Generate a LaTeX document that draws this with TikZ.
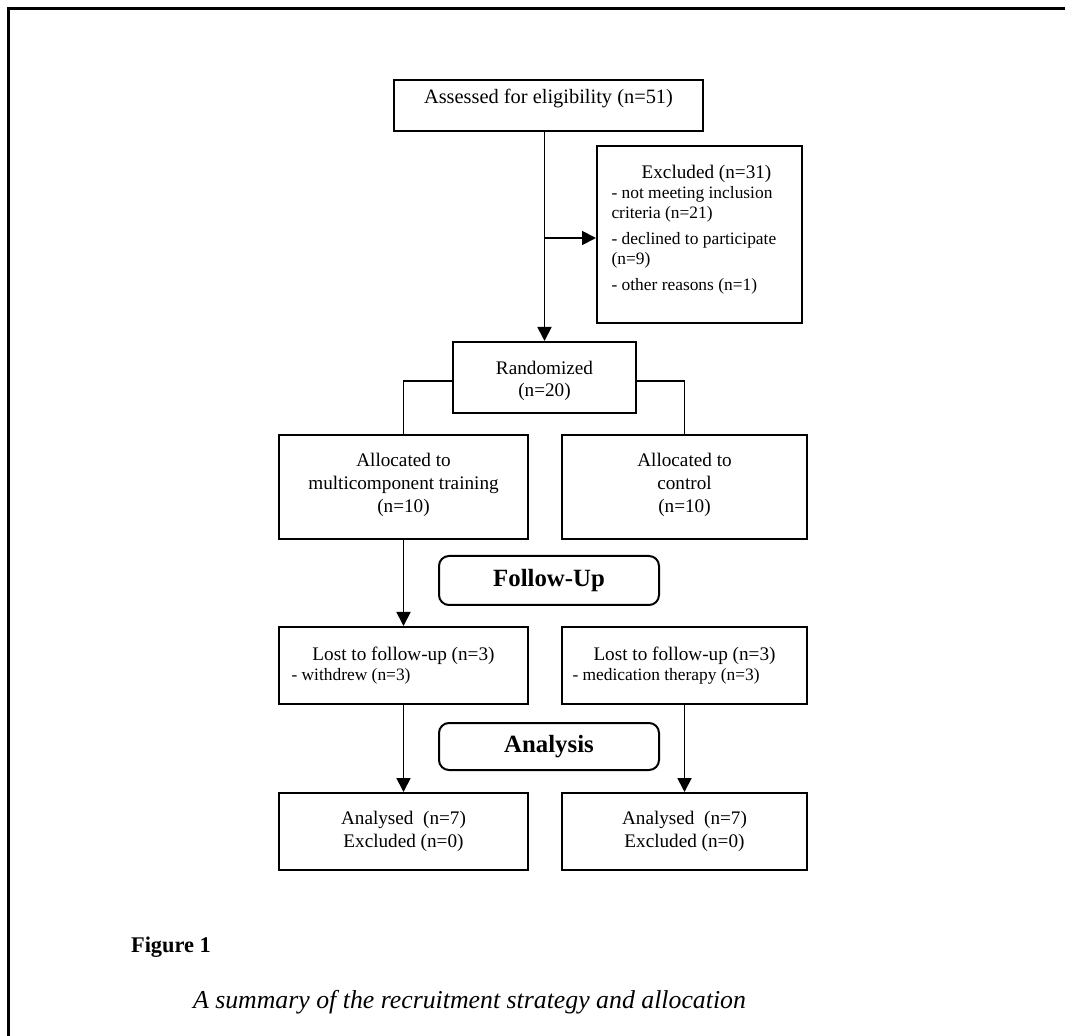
\documentclass[tikz,border=0pt]{standalone}
\usepackage{fontspec}
\setmainfont{Liberation Serif}
\usepackage{tikz}
\usetikzlibrary{arrows.meta}

\begin{document}
\begin{tikzpicture}[x=0.5pt,y=-0.5pt,
  box/.style={draw,line width=1pt,inner sep=0pt,align=center,font=\fontsize{9.6}{11.3}\selectfont},
  stage/.style={draw,line width=1pt,rounded corners=5pt,inner sep=0pt,font=\fontsize{12.4}{14}\selectfont\bfseries},
  link/.style={line width=0.9pt},
  arrow/.style={line width=0.9pt,-{Triangle[length=7pt,width=7pt]}}]
  \useasboundingbox (0,0) rectangle (1065,1036);
  \draw[line width=1.5pt] (8,1036) -- (8,9) -- (1065,9);

  \node[box,minimum width=154.5pt,minimum height=25.5pt,font=\fontsize{10.2}{12}\selectfont,text depth=9pt] (assess) at (548.5,105.5) {Assessed for eligibility (n=51)};
  \node[box,minimum width=102.5pt,minimum height=88.5pt,text width=88pt,align=flush left,font=\fontsize{8.7}{10}\selectfont] (excl) at (699.5,234.5)
    {\makebox[\linewidth]{\hspace{7pt}\fontsize{9.6}{10}\selectfont Excluded (n=31)}\\
     - not meeting inclusion\\
     criteria (n=21)\\[3pt]
     - declined to participate\\
     (n=9)\\[3pt]
     - other reasons (n=1)\rule[-7pt]{0pt}{7pt}};
  \node[box,minimum width=91.5pt,minimum height=35.5pt,font=\fontsize{9.6}{11}\selectfont] (rand) at (544.5,377.5) {\rule{0pt}{9.6pt}Randomized\\(n=20)};
  \node[box,minimum width=124.5pt,minimum height=52pt] (allocA) at (403.5,487) {Allocated to\\multicomponent training\\(n=10)\rule[-4.2pt]{0pt}{4.2pt}};
  \node[box,minimum width=122.5pt,minimum height=52pt] (allocB) at (684.5,487) {Allocated to\\control\\(n=10)\rule[-4.2pt]{0pt}{4.2pt}};
  \node[stage,minimum width=110pt,minimum height=24.5pt] (follow) at (549,580.5) {Follow-Up};
  \node[box,minimum width=124.5pt,minimum height=38.5pt,text width=112pt,align=flush left] (lostA) at (403.5,665.5)
    {\makebox[\linewidth]{Lost to follow-up (n=3)}\\[-1pt]
     {\fontsize{8.7}{10}\selectfont - withdrew (n=3)}};
  \node[box,minimum width=122.5pt,minimum height=38.5pt,text width=112pt,align=flush left] (lostB) at (684.5,665.5)
    {\makebox[\linewidth]{Lost to follow-up (n=3)}\\[-1pt]
     {\fontsize{8.7}{10}\selectfont - medication therapy (n=3)}};
  \node[stage,minimum width=110pt,minimum height=23.5pt] (analysis) at (549,746.5) {Analysis};
  \node[box,minimum width=124.5pt,minimum height=38.5pt] (anaA) at (403.5,831.5) {Analysed\ \ (n=7)\\Excluded (n=0)};
  \node[box,minimum width=122.5pt,minimum height=38.5pt] (anaB) at (684.5,831.5) {Analysed\ \ (n=7)\\Excluded (n=0)};

  \draw[arrow] (assess.south -| rand.north) -- (rand.north);
  \draw[arrow] ([yshift=-1.75pt]rand.north |- excl.west) -- ([yshift=-1.75pt]excl.west);
  \draw[link] ([yshift=-1.75pt]rand.west) -| (allocA.north);
  \draw[link] ([yshift=-1.75pt]rand.east) -| (allocB.north);
  \draw[arrow] (allocA.south) -- (lostA.north);
  \draw[arrow] (lostA.south) -- (anaA.north);
  \draw[arrow] (lostB.south) -- (anaB.north);

  \node[anchor=west,font=\fontsize{11.2}{14}\selectfont\bfseries] (fig) at (124,947) {Figure 1};
  \node[anchor=west,font=\fontsize{12.9}{15}\selectfont\itshape] (caption) at (186,1002) {A summary of the recruitment strategy and allocation};
\end{tikzpicture}
\end{document}
